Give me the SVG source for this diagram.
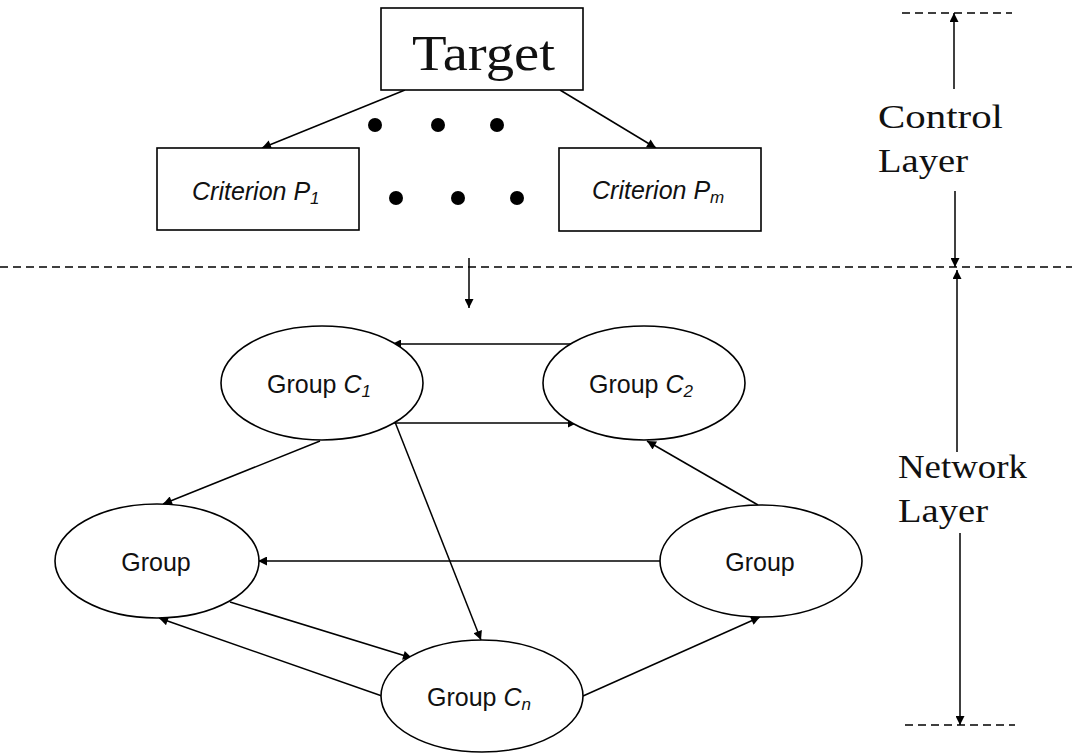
<svg xmlns="http://www.w3.org/2000/svg" width="1072" height="753" viewBox="0 0 1072 753">
<style>
.box{fill:#fff;stroke:#000;stroke-width:1.6}
.ell{fill:#fff;stroke:#000;stroke-width:1.6}
.con{stroke:#000;stroke-width:1.5;fill:none}
.dash{stroke:#000;stroke-width:1.3;stroke-dasharray:8 5;fill:none}
.lbl{font-family:"Liberation Sans",Arial,sans-serif;font-size:25px;fill:#111}
.it{font-style:italic}
.mono{font-family:"Liberation Serif","Times New Roman",serif;fill:#111}
</style>
<defs>
<marker id="ah" viewBox="0 0 10 10" refX="10" refY="5" markerWidth="11" markerHeight="9" markerUnits="userSpaceOnUse" orient="auto">
<path d="M0,0 L10,5 L0,10 z" fill="#000"/>
</marker>
</defs>
<rect width="1072" height="753" fill="#fff"/>
<g id="dashes">
<line class="dash" x1="0" y1="267" x2="1072" y2="267"/>
<line class="dash" x1="902" y1="13" x2="1012" y2="13"/>
<line class="dash" x1="905" y1="725" x2="1015" y2="725"/>
</g>
<g id="connectors">
<line class="con" x1="405" y1="90" x2="262" y2="148" marker-end="url(#ah)"/>
<line class="con" x1="560" y1="90" x2="656" y2="148" marker-end="url(#ah)"/>
<line class="con" x1="469" y1="258" x2="469" y2="308" marker-end="url(#ah)"/>
<line class="con" x1="572" y1="344" x2="392" y2="344" marker-end="url(#ah)"/>
<line class="con" x1="394" y1="423" x2="577" y2="423" marker-end="url(#ah)"/>
<line class="con" x1="320" y1="441" x2="163" y2="504" marker-end="url(#ah)"/>
<line class="con" x1="395" y1="422" x2="481" y2="640" marker-end="url(#ah)"/>
<line class="con" x1="660" y1="561" x2="258" y2="561" marker-end="url(#ah)"/>
<line class="con" x1="758" y1="505" x2="647" y2="441" marker-end="url(#ah)"/>
<line class="con" x1="230" y1="602" x2="412" y2="658" marker-end="url(#ah)"/>
<line class="con" x1="382" y1="696" x2="159" y2="618" marker-end="url(#ah)"/>
<line class="con" x1="583" y1="696" x2="760" y2="617" marker-end="url(#ah)"/>
<line class="con" x1="954" y1="89" x2="954" y2="13" marker-end="url(#ah)"/>
<line class="con" x1="955" y1="191" x2="955" y2="267" marker-end="url(#ah)"/>
<line class="con" x1="957" y1="452" x2="957" y2="270" marker-end="url(#ah)"/>
<line class="con" x1="960" y1="533" x2="960" y2="725" marker-end="url(#ah)"/>
</g>
<g id="target">
<rect class="box" x="381" y="8" width="202" height="82"/>
<text class="mono" x="412" y="70" font-size="50" textLength="143" lengthAdjust="spacingAndGlyphs">Target</text>
</g>
<g id="dots">
<circle cx="375" cy="125" r="7"/>
<circle cx="438" cy="125" r="7"/>
<circle cx="497" cy="125" r="7"/>
<circle cx="396" cy="198" r="7"/>
<circle cx="458" cy="198" r="7"/>
<circle cx="517" cy="198" r="7"/>
</g>
<g id="criterion1">
<rect class="box" x="157" y="148" width="202" height="82"/>
<text class="lbl it" x="192" y="200">Criterion P<tspan font-size="17" dy="4">1</tspan></text>
</g>
<g id="criterionm">
<rect class="box" x="559" y="148" width="202" height="83"/>
<text class="lbl it" x="592" y="199">Criterion P<tspan font-size="17" dy="4">m</tspan></text>
</g>
<g id="groupC1">
<ellipse class="ell" cx="322" cy="383" rx="101" ry="57"/>
<text class="lbl" x="267" y="393">Group <tspan class="it">C</tspan><tspan class="it" font-size="17" dy="4">1</tspan></text>
</g>
<g id="groupC2">
<ellipse class="ell" cx="644" cy="383" rx="101" ry="57"/>
<text class="lbl" x="589" y="393">Group <tspan class="it">C</tspan><tspan class="it" font-size="17" dy="4">2</tspan></text>
</g>
<g id="groupLeft">
<ellipse class="ell" cx="157" cy="561" rx="102" ry="57"/>
<text class="lbl" x="156" y="571" text-anchor="middle">Group</text>
</g>
<g id="groupRight">
<ellipse class="ell" cx="761" cy="561" rx="101" ry="56"/>
<text class="lbl" x="760" y="571" text-anchor="middle">Group</text>
</g>
<g id="groupCn">
<ellipse class="ell" cx="482" cy="696" rx="101" ry="56"/>
<text class="lbl" x="427" y="706">Group <tspan class="it">C</tspan><tspan class="it" font-size="17" dy="4">n</tspan></text>
</g>
<g id="controlLabel">
<text class="mono" x="878" y="128" font-size="34" textLength="125" lengthAdjust="spacingAndGlyphs">Control</text>
<text class="mono" x="878" y="172" font-size="34" textLength="90" lengthAdjust="spacingAndGlyphs">Layer</text>
</g>
<g id="networkLabel">
<text class="mono" x="898" y="478" font-size="34" textLength="129" lengthAdjust="spacingAndGlyphs">Network</text>
<text class="mono" x="898" y="522" font-size="34" textLength="90" lengthAdjust="spacingAndGlyphs">Layer</text>
</g>
</svg>
